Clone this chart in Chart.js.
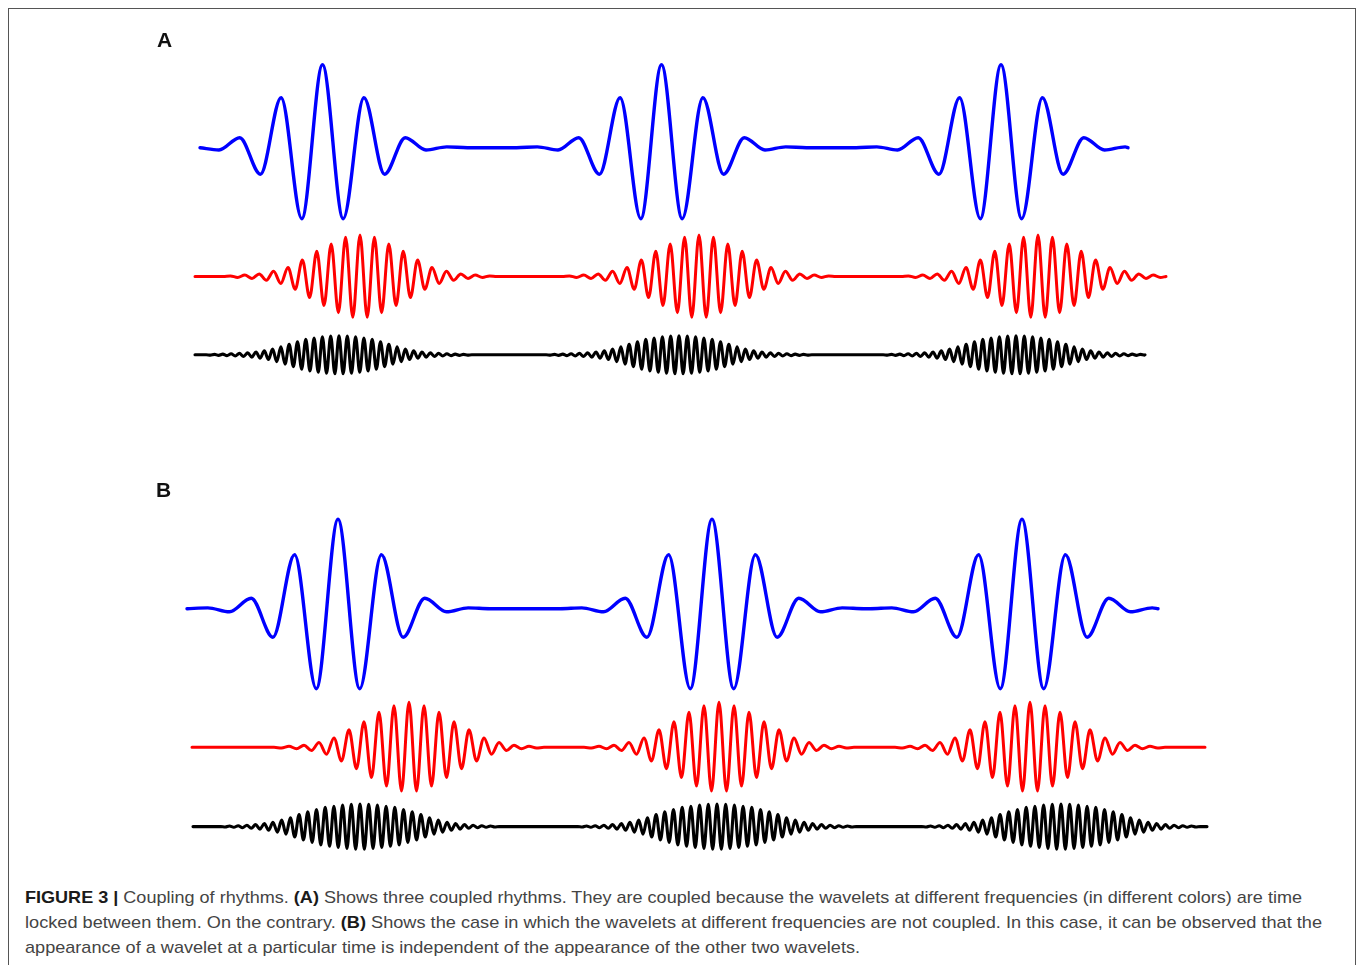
<!DOCTYPE html>
<html>
<head>
<meta charset="utf-8">
<script src="https://cdn.jsdelivr.net/npm/chart.js@4.4.1/dist/chart.umd.min.js"></script>
<style>
html,body{margin:0;padding:0;background:#fff;}
body{width:1357px;height:965px;position:relative;overflow:hidden;font-family:"Liberation Sans",Arial,Helvetica,sans-serif;}
#frame{position:absolute;left:8px;top:8px;width:1346px;height:1000px;border:1px solid #555;border-bottom:none;}
#plot{position:absolute;left:0;top:0;}
.lbl{position:absolute;font-weight:bold;font-size:21px;line-height:24px;color:#111;}
.cap{position:absolute;left:25px;font-size:17px;line-height:20px;color:#444;white-space:nowrap;transform-origin:0 50%;}
.cap b{color:#1a1a1a;}
</style>
</head>
<body>
<div id="frame"></div>
<canvas id="plot" width="1357" height="880"></canvas>
<div class="lbl" style="left:157px;top:28px;">A</div>
<div class="lbl" style="left:156px;top:478px;">B</div>
<div class="cap" id="c1" data-w="1277" style="top:888px;"><b>FIGURE 3 |</b> Coupling of rhythms. <b>(A)</b> Shows three coupled rhythms. They are coupled because the wavelets at different frequencies (in different colors) are time</div>
<div class="cap" id="c2" data-w="1297" style="top:913px;">locked between them. On the contrary. <b>(B)</b> Shows the case in which the wavelets at different frequencies are not coupled. In this case, it can be observed that the</div>
<div class="cap" id="c3" data-w="835" style="top:938px;">appearance of a wavelet at a particular time is independent of the appearance of the other two wavelets.</div>
<script>
// ---- Data (time in arbitrary units, amplitude in arbitrary units) ----
// Wavelet centre times
const A_blueCenters  = [322.5, 661.5, 1001];
const A_redCenters   = [360, 699, 1038];
const A_blackCenters = [339, 679, 1016];
const B_blueCenters  = [338, 712, 1022];
const B_redCenters   = [409, 719, 1030];
const B_blackCenters = [360, 717, 1061];

// Half periods of each rhythm
const A_halfPeriods = [20.7, 7.2, 4.15];   // blue, red, black
const B_halfPeriods = [21.7, 7.5, 4.35];

// Time extent of each trace [start, end]
const A_blueSpan  = [200, 1128];
const A_redSpan   = [195, 1166];
const A_blackSpan = [195, 1145];
const B_blueSpan  = [187, 1158];
const B_redSpan   = [192, 1205];
const B_blackSpan = [193, 1207];

// Successive extrema from the wavelet centre outwards (mirrored on the other side)
const A_blueExtrema = [83, -71, 50, -26.5, 10, -2.3, 0.8];
const B_blueExtrema = [89.5, -80, 54, -28.5, 10.4, -3.1, 0.8];
const A_redExtrema = [41.5, -40.8, 39.2, -36.2, 32.5, -29, 25.2, -21, 16.6, -12.8, 9, -7, 5.2, -3.7, 2.6, -2, 1.5, -1, 0.6];
const B_redExtrema = [45, -43.8, 41.6, -38.8, 35, -30.3, 25.6, -21.4, 17.5, -13.6, 9.4, -6.9, 4.8, -3.2, 2.1, -1.5, 1.1, -0.7];
const A_blackExtrema = [19, -19, 18.8, -18.5, 18, -17.5, 16.8, -16.2, 15.5, -14.3, 13, -11.8, 10.6, -9.3, 8, -6.8, 5.7, -4.7, 3.9, -3.3, 2.8, -2.4, 2, -1.7, 1.4, -1.2, 1, -0.8, 0.7, -0.55, 0.45, -0.35];
const B_blackExtrema = [22.5, -22.5, 22.3, -21.9, 21.5, -20.9, 20.3, -19.7, 19.3, -18.3, 17, -15.8, 14.7, -13.3, 12, -10.4, 8.8, -7.5, 6.5, -5.5, 4.4, -3.7, 3, -2.5, 2, -1.7, 1.4, -1.1, 0.9, -0.7, 0.55, -0.45];

// ---- Layout / styling (not data) ----
const rowBaselines = [147.7, 276.5, 354.8, 608.7, 747.3, 826.6];
const colors = ['#0000ff', '#ff0000', '#000000'];
const widths = [3.4, 3, 3.1];

function buildSeries(centers, extrema, half, span) {
  const pts = [];
  const n = extrema.length;
  centers.forEach(c => {
    pts.push({x: c - n * half, y: 0});
    for (let j = n - 1; j >= 1; j--) pts.push({x: c - j * half, y: extrema[j]});
    pts.push({x: c, y: extrema[0]});
    for (let j = 1; j < n; j++) pts.push({x: c + j * half, y: extrema[j]});
    pts.push({x: c + n * half, y: 0});
  });
  const inside = pts.filter(p => p.x > span[0] && p.x < span[1]);
  return [{x: span[0], y: 0}, ...inside, {x: span[1], y: 0}];
}

const seriesDefs = [
  [A_blueCenters,  A_blueExtrema,  A_halfPeriods[0], A_blueSpan],
  [A_redCenters,   A_redExtrema,   A_halfPeriods[1], A_redSpan],
  [A_blackCenters, A_blackExtrema, A_halfPeriods[2], A_blackSpan],
  [B_blueCenters,  B_blueExtrema,  B_halfPeriods[0], B_blueSpan],
  [B_redCenters,   B_redExtrema,   B_halfPeriods[1], B_redSpan],
  [B_blackCenters, B_blackExtrema, B_halfPeriods[2], B_blackSpan]
];

const canvas = document.getElementById('plot');
const H = canvas.height, W = canvas.width;

const datasets = seriesDefs.map((d, i) => ({
  data: buildSeries(d[0], d[1], d[2], d[3]),
  borderColor: colors[i % 3],
  borderWidth: widths[i % 3],
  borderJoinStyle: 'round',
  borderCapStyle: 'round',
  pointRadius: 0,
  fill: false,
  cubicInterpolationMode: 'monotone',
  clip: false,
  yAxisID: 'y' + i
}));

const scales = {
  x: {type: 'linear', min: 0, max: W, display: false}
};
rowBaselines.forEach((b, i) => {
  scales['y' + i] = {type: 'linear', min: b - H, max: b, display: false};
});

new Chart(canvas, {
  type: 'line',
  data: {datasets},
  options: {
    responsive: false,
    animation: false,
    layout: {padding: 0},
    plugins: {legend: {display: false}, tooltip: {enabled: false}},
    events: [],
    scales
  }
});

// fit caption lines to their measured widths
document.querySelectorAll('.cap').forEach(el => {
  const target = parseFloat(el.dataset.w);
  const w = el.getBoundingClientRect().width;
  if (w > 0) el.style.transform = 'scaleX(' + (target / w) + ')';
});
</script>
</body>
</html>
